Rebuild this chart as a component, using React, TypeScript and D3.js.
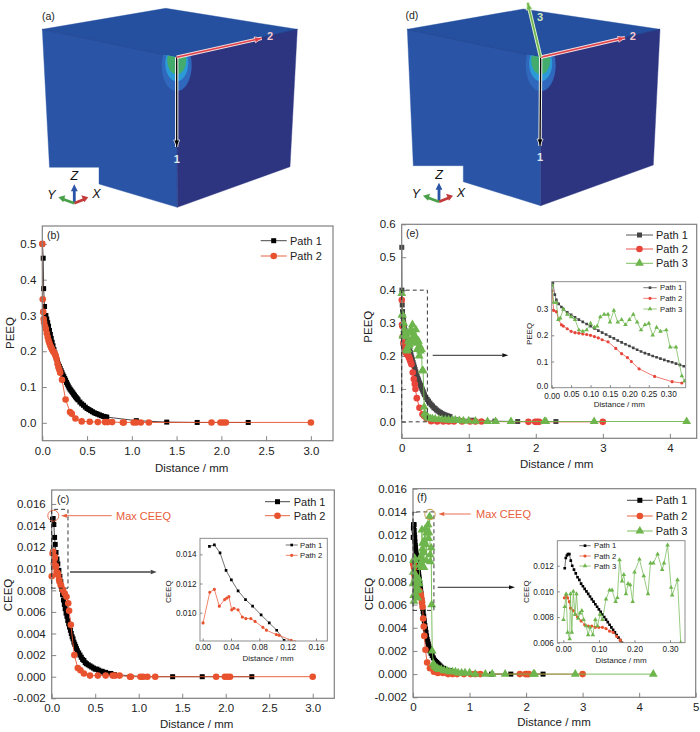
import * as d3 from 'd3';
import { useRef, useEffect } from 'react';

type Pt = [number, number];

const FONT = '"Liberation Sans", Arial, sans-serif';
const BLACK = '#000000';
const DARK = '#444444';
const RED = '#e8522e';
const RED_E = '#e8443a';
const GREEN = '#6db54c';
const ANNOT = '#e8603c';

// (b) PEEQ, model without path 3
const bPath1: Pt[] = [[0.002, 0.5], [0.01, 0.46], [0.015, 0.375], [0.025, 0.325], [0.04, 0.3], [0.05, 0.29], [0.06, 0.28], [0.07, 0.27], [0.08, 0.258], [0.09, 0.247], [0.1, 0.236], [0.11, 0.225], [0.12, 0.215], [0.13, 0.205], [0.14, 0.195], [0.15, 0.186], [0.16, 0.178], [0.17, 0.171], [0.18, 0.164], [0.19, 0.158], [0.2, 0.152], [0.21, 0.146], [0.22, 0.14], [0.23, 0.134], [0.24, 0.129], [0.25, 0.124], [0.26, 0.119], [0.27, 0.113], [0.28, 0.108], [0.29, 0.103], [0.3, 0.098], [0.31, 0.094], [0.32, 0.091], [0.33, 0.087], [0.34, 0.084], [0.35, 0.08], [0.36, 0.077], [0.37, 0.073], [0.38, 0.07], [0.39, 0.067], [0.4, 0.064], [0.42, 0.058], [0.44, 0.053], [0.46, 0.049], [0.48, 0.044], [0.5, 0.04], [0.52, 0.037], [0.54, 0.034], [0.56, 0.031], [0.58, 0.028], [0.6, 0.026], [0.62, 0.024], [0.64, 0.022], [0.66, 0.02], [0.68, 0.018], [0.7, 0.017], [0.72, 0.016], [1.05, 0.006], [1.39, 0.002], [1.73, 0.001], [2.3, 0.001]];
const bPath2: Pt[] = [[0.0, 0.5], [0.005, 0.345], [0.01, 0.31], [0.015, 0.29], [0.02, 0.28], [0.03, 0.27], [0.04, 0.262], [0.05, 0.25], [0.06, 0.24], [0.07, 0.23], [0.08, 0.222], [0.09, 0.215], [0.1, 0.21], [0.11, 0.205], [0.12, 0.2], [0.13, 0.197], [0.14, 0.192], [0.15, 0.187], [0.16, 0.178], [0.17, 0.165], [0.18, 0.155], [0.19, 0.148], [0.2, 0.14], [0.22, 0.12], [0.26, 0.065], [0.31, 0.03], [0.33, 0.025], [0.37, 0.012], [0.44, 0.004], [0.53, 0.003], [0.62, 0.002], [0.7, 0.002], [0.73, 0.002], [0.78, 0.002], [0.9, 0.001], [0.91, 0.001], [1.02, 0.001], [1.05, 0.001], [1.1, 0.001], [1.19, 0.001], [1.89, 0.001], [1.99, 0.001], [2.02, 0.001], [2.05, 0.001], [3.0, 0.001]];

// (e) PEEQ, zoomed part first, then the long tail
const ePath1Zoom: Pt[] = [[0.001, 0.53], [0.003, 0.4], [0.008, 0.355], [0.012, 0.335], [0.018, 0.32], [0.025, 0.308], [0.03, 0.3], [0.04, 0.288], [0.05, 0.278], [0.06, 0.269], [0.07, 0.26], [0.08, 0.251], [0.09, 0.243], [0.1, 0.235], [0.11, 0.226], [0.12, 0.218], [0.13, 0.21], [0.14, 0.203], [0.15, 0.195], [0.16, 0.188], [0.17, 0.18], [0.18, 0.173], [0.19, 0.166], [0.2, 0.159], [0.21, 0.152], [0.22, 0.145], [0.23, 0.138], [0.24, 0.132], [0.25, 0.127], [0.26, 0.121], [0.27, 0.116], [0.28, 0.111], [0.29, 0.106], [0.3, 0.101], [0.31, 0.097], [0.32, 0.092], [0.33, 0.087], [0.34, 0.082]];
const ePath1Tail: Pt[] = [[0.36, 0.074], [0.38, 0.068], [0.4, 0.063], [0.42, 0.057], [0.44, 0.052], [0.46, 0.048], [0.48, 0.043], [0.5, 0.04], [0.52, 0.036], [0.54, 0.033], [0.56, 0.03], [0.58, 0.028], [0.6, 0.025], [0.62, 0.023], [0.64, 0.021], [0.66, 0.02], [0.68, 0.018], [0.7, 0.017], [0.72, 0.016], [1.05, 0.005], [1.39, 0.002], [1.73, 0.001], [2.3, 0.001]];
const ePath2Zoom: Pt[] = [[0.001, 0.37], [0.005, 0.295], [0.012, 0.29], [0.018, 0.26], [0.025, 0.24], [0.03, 0.235], [0.04, 0.225], [0.05, 0.215], [0.06, 0.21], [0.07, 0.208], [0.08, 0.205], [0.09, 0.203], [0.1, 0.2], [0.11, 0.195], [0.12, 0.19], [0.13, 0.183], [0.145, 0.175], [0.165, 0.15], [0.18, 0.13], [0.195, 0.115], [0.205, 0.1], [0.225, 0.072], [0.265, 0.043], [0.31, 0.023], [0.335, 0.018]];
const ePath2Tail: Pt[] = [[0.37, 0.01], [0.44, 0.002], [0.53, 0.001], [0.62, 0.001], [0.7, 0.001], [0.78, 0.001], [0.9, 0.001], [1.02, 0.001], [1.1, 0.001], [1.19, 0.001], [1.89, 0.0], [1.99, 0.0], [2.02, 0.0], [2.05, 0.0], [3.0, 0.0]];
const ePath3Zoom: Pt[] = [[0.001, 0.39], [0.005, 0.325], [0.012, 0.325], [0.017, 0.26], [0.022, 0.265], [0.03, 0.3], [0.04, 0.28], [0.05, 0.27], [0.06, 0.26], [0.07, 0.22], [0.08, 0.215], [0.09, 0.22], [0.1, 0.245], [0.11, 0.23], [0.117, 0.235], [0.125, 0.27], [0.135, 0.28], [0.145, 0.28], [0.15, 0.25], [0.16, 0.295], [0.17, 0.25], [0.18, 0.26], [0.19, 0.24], [0.2, 0.26], [0.21, 0.28], [0.22, 0.25], [0.23, 0.22], [0.24, 0.24], [0.25, 0.245], [0.26, 0.2], [0.27, 0.23], [0.28, 0.215], [0.295, 0.22], [0.305, 0.155], [0.32, 0.155], [0.335, 0.045], [0.342, 0.025]];
const ePath3Tail: Pt[] = [[0.36, 0.02], [0.38, 0.015], [0.4, 0.012], [0.43, 0.01], [0.46, 0.009], [0.5, 0.008], [0.55, 0.007], [0.6, 0.007], [0.65, 0.006], [0.7, 0.006], [0.75, 0.005], [0.8, 0.005], [0.86, 0.004], [0.92, 0.003], [1.0, 0.003], [1.1, 0.002], [1.28, 0.001], [1.4, 0.001], [1.63, 0.001], [2.13, 0.001], [2.15, 0.001], [2.87, 0.001], [4.25, 0.001]];

// (c) CEEQ
const cPath1Zoom: Pt[] = [[0.0095, 0.01455], [0.0165, 0.01465], [0.0245, 0.0141], [0.033, 0.0129], [0.0405, 0.01225], [0.05, 0.0115], [0.0605, 0.0109], [0.0705, 0.01045], [0.0825, 0.00985], [0.094, 0.0093], [0.1045, 0.0088], [0.115, 0.0081]];
const cPath1Tail: Pt[] = [[0.125, 0.0076], [0.135, 0.0071], [0.145, 0.0067], [0.155, 0.0063], [0.165, 0.0059], [0.175, 0.0056], [0.185, 0.0052], [0.195, 0.0049], [0.205, 0.0046], [0.215, 0.0043], [0.225, 0.004], [0.235, 0.0037], [0.245, 0.0035], [0.255, 0.0032], [0.265, 0.003], [0.275, 0.0028], [0.285, 0.0026], [0.295, 0.0024], [0.31, 0.0022], [0.325, 0.002], [0.34, 0.0018], [0.355, 0.0016], [0.37, 0.0015], [0.385, 0.0013], [0.4, 0.0012], [0.42, 0.0011], [0.44, 0.001], [0.46, 0.0009], [0.48, 0.0008], [0.5, 0.0007], [0.52, 0.0007], [0.54, 0.0006], [0.56, 0.0005], [0.58, 0.0005], [0.6, 0.0004], [0.62, 0.0004], [0.64, 0.0003], [0.66, 0.0003], [0.68, 0.0003], [0.7, 0.0002], [0.72, 0.0002], [1.05, 0.0], [1.39, 0.0], [1.73, 0.0], [2.3, 0.0]];
const cPath2Zoom: Pt[] = [[0.0005, 0.0093], [0.01, 0.0114], [0.0165, 0.0116], [0.0235, 0.01045], [0.031, 0.0109], [0.034, 0.011], [0.037, 0.0111], [0.041, 0.0102], [0.044, 0.0103], [0.05, 0.0102], [0.056, 0.0097], [0.061, 0.0096], [0.068, 0.0096], [0.074, 0.0094], [0.085, 0.009], [0.09, 0.0088], [0.104, 0.0085], [0.108, 0.00845], [0.125, 0.0081], [0.13, 0.008], [0.15, 0.0077]];
const cPath2Tail: Pt[] = [[0.17, 0.0074], [0.19, 0.0068], [0.2, 0.0061], [0.22, 0.0048], [0.26, 0.002], [0.3, 0.0008], [0.33, 0.0006], [0.37, 0.0003], [0.44, 0.0001], [0.53, 0.0001], [0.62, 0.0001], [0.7, 0.0001], [0.73, 0.0001], [0.78, 0.0001], [0.9, 0.0], [0.91, 0.0], [1.02, 0.0], [1.05, 0.0], [1.1, 0.0], [1.19, 0.0], [1.89, 0.0], [1.99, 0.0], [2.02, 0.0], [2.05, 0.0], [3.0, 0.0]];

// (f) CEEQ
const fPath1Zoom: Pt[] = [[0.004, 0.0118], [0.007, 0.0126], [0.01, 0.0128], [0.013, 0.0129], [0.017, 0.0129], [0.021, 0.0124], [0.025, 0.012], [0.03, 0.0117], [0.035, 0.0114], [0.04, 0.0111], [0.045, 0.0109], [0.05, 0.0106], [0.055, 0.0104], [0.06, 0.0102], [0.065, 0.01], [0.07, 0.0098], [0.075, 0.0096], [0.08, 0.0094], [0.085, 0.0092], [0.09, 0.009], [0.095, 0.0088], [0.1, 0.0086], [0.105, 0.0084], [0.11, 0.0082], [0.115, 0.008], [0.12, 0.0078], [0.125, 0.0076], [0.13, 0.0074], [0.135, 0.0072], [0.14, 0.007], [0.145, 0.0068], [0.15, 0.0066], [0.155, 0.0064], [0.16, 0.0062], [0.165, 0.006], [0.17, 0.0058]];
const fPath1Tail: Pt[] = [[0.18, 0.0054], [0.19, 0.005], [0.2, 0.0046], [0.21, 0.0042], [0.22, 0.0039], [0.23, 0.0036], [0.24, 0.0033], [0.25, 0.003], [0.26, 0.0028], [0.27, 0.0026], [0.28, 0.0024], [0.29, 0.0022], [0.3, 0.002], [0.32, 0.0018], [0.34, 0.0016], [0.36, 0.0014], [0.38, 0.0012], [0.4, 0.0011], [0.42, 0.001], [0.44, 0.0009], [0.46, 0.0008], [0.48, 0.0007], [0.5, 0.0006], [0.54, 0.0005], [0.58, 0.0004], [0.62, 0.0003], [0.66, 0.0003], [0.7, 0.0002], [0.72, 0.0002], [1.05, 0.0], [1.39, 0.0], [1.73, 0.0], [2.3, 0.0]];
const fPath2Zoom: Pt[] = [[0.003, 0.0095], [0.008, 0.0097], [0.012, 0.0095], [0.017, 0.0092], [0.02, 0.0087], [0.028, 0.0085], [0.034, 0.0082], [0.04, 0.008], [0.05, 0.0077], [0.06, 0.0074], [0.07, 0.0073], [0.08, 0.0073], [0.09, 0.0072], [0.1, 0.0072], [0.11, 0.0072], [0.12, 0.0071], [0.13, 0.0069], [0.14, 0.0068], [0.15, 0.0065], [0.16, 0.0062], [0.17, 0.0058]];
const fPath2Tail: Pt[] = [[0.18, 0.0048], [0.19, 0.0041], [0.2, 0.0033], [0.22, 0.0021], [0.25, 0.001], [0.3, 0.0005], [0.37, 0.0002], [0.44, 0.0001], [0.53, 0.0001], [0.62, 0.0], [0.7, 0.0], [0.78, 0.0], [0.9, 0.0], [1.02, 0.0], [1.1, 0.0], [1.19, 0.0], [1.89, 0.0], [1.99, 0.0], [2.02, 0.0], [2.05, 0.0], [3.0, 0.0]];
const fPath3Zoom: Pt[] = [[0.0005, 0.0078], [0.004, 0.0088], [0.008, 0.0098], [0.012, 0.0068], [0.018, 0.0063], [0.02, 0.0098], [0.024, 0.0068], [0.028, 0.01], [0.033, 0.0082], [0.037, 0.0098], [0.042, 0.0079], [0.047, 0.0083], [0.052, 0.0085], [0.057, 0.0078], [0.064, 0.0073], [0.07, 0.0066], [0.075, 0.0072], [0.083, 0.0066], [0.09, 0.0078], [0.096, 0.0073], [0.103, 0.0082], [0.11, 0.0078], [0.12, 0.0094], [0.13, 0.0101], [0.137, 0.0101], [0.147, 0.0092], [0.152, 0.0095], [0.158, 0.01245], [0.165, 0.0108], [0.17, 0.0113], [0.176, 0.0098], [0.182, 0.0106], [0.188, 0.0105], [0.195, 0.0092], [0.2, 0.0115], [0.214, 0.0125], [0.226, 0.0112], [0.238, 0.0098], [0.245, 0.0122], [0.253, 0.0122], [0.265, 0.0129], [0.278, 0.0117], [0.283, 0.0122], [0.293, 0.0136], [0.303, 0.0103], [0.306, 0.0097], [0.321, 0.0109], [0.33, 0.006]];
const fPath3Tail: Pt[] = [[0.34, 0.002], [0.36, 0.0009], [0.38, 0.0007], [0.4, 0.0006], [0.43, 0.0005], [0.46, 0.0004], [0.5, 0.0004], [0.55, 0.0003], [0.6, 0.0003], [0.65, 0.0002], [0.7, 0.0002], [0.75, 0.0002], [0.8, 0.0001], [0.86, 0.0001], [0.92, 0.0001], [1.0, 0.0001], [1.1, 0.0], [1.28, 0.0], [1.4, 0.0], [1.63, 0.0], [2.13, 0.0], [2.15, 0.0], [2.87, 0.0], [4.25, 0.0]];

const pathLabels = ['Path 1', 'Path 2', 'Path 3'];

const peeqTicks = [0, 0.1, 0.2, 0.3, 0.4, 0.5];
const peeqTicksE = [0, 0.1, 0.2, 0.3, 0.4, 0.5, 0.6];
const ceeqTicks = [-0.002, 0, 0.002, 0.004, 0.006, 0.008, 0.01, 0.012, 0.014, 0.016];
const dist3Ticks = [0, 0.5, 1, 1.5, 2, 2.5, 3];
const dist4Ticks = [0, 1, 2, 3, 4];
const dist5Ticks = [0, 1, 2, 3, 4, 5];

type Series = { label: string; data: Pt[]; color: string; line: string; mark: 'square' | 'circle' | 'triangle' };
type PlotCfg = {
  box: [number, number, number, number];
  xDomain: [number, number];
  yDomain: [number, number];
  xTicks: number[];
  yTicks: number[];
  xFmt: string;
  yFmt: string;
  yLabel: string;
  xLabelPos: [number, number];
  yLabelPos: [number, number];
  series: Series[];
  legendLine: [number, number];
  legendText: number;
  legendY: number[];
  inset?: boolean;
};

const s1 = (data: Pt[], color = BLACK, line = '#333333'): Series => ({ label: pathLabels[0], data, color, line, mark: 'square' });
const s2 = (data: Pt[], color = RED): Series => ({ label: pathLabels[1], data, color, line: color, mark: 'circle' });
const s3 = (data: Pt[]): Series => ({ label: pathLabels[2], data, color: GREEN, line: GREEN, mark: 'triangle' });

const plots: Record<string, PlotCfg> = {
  b: {
    box: [42.3, 226, 333, 440.7], xDomain: [0, 3.247], yDomain: [-0.05, 0.55],
    xTicks: dist3Ticks, yTicks: peeqTicks, xFmt: '.1f', yFmt: '.1f', yLabel: 'PEEQ',
    xLabelPos: [191.7, 471.5], yLabelPos: [13.5, 333],
    series: [s1(bPath1), s2(bPath2)],
    legendLine: [260.7, 286.7], legendText: 290, legendY: [240.7, 256],
  },
  e: {
    box: [401.7, 224.3, 696.7, 438.3], xDomain: [0, 4.4], yDomain: [-0.05, 0.6],
    xTicks: dist4Ticks, yTicks: peeqTicksE, xFmt: 'd', yFmt: '.1f', yLabel: 'PEEQ',
    xLabelPos: [556.7, 468], yLabelPos: [372, 326.7],
    series: [s1([...ePath1Zoom, ...ePath1Tail], DARK, DARK), s2([...ePath2Zoom, ...ePath2Tail], RED_E), s3([...ePath3Zoom, ...ePath3Tail])],
    legendLine: [626, 653], legendText: 656, legendY: [235, 249, 263.3],
  },
  eInset: {
    box: [551.7, 281.7, 685.7, 387.7], xDomain: [0, 0.345], yDomain: [0, 0.4045],
    xTicks: [0, 0.05, 0.1, 0.15, 0.2, 0.25, 0.3], yTicks: [0, 0.1, 0.2, 0.3], xFmt: '.2f', yFmt: '.1f', yLabel: 'PEEQ',
    xLabelPos: [619.3, 407], yLabelPos: [532, 334],
    series: [s1(ePath1Zoom, DARK, DARK), s2(ePath2Zoom, RED_E), s3(ePath3Zoom)],
    legendLine: [643.3, 656.7], legendText: 660, legendY: [287.7, 298.3, 309], inset: true,
  },
  c: {
    box: [51.7, 490, 334.3, 698.3], xDomain: [0, 3.248], yDomain: [-0.002, 0.01729],
    xTicks: dist3Ticks, yTicks: ceeqTicks, xFmt: '.1f', yFmt: '.3f', yLabel: 'CEEQ',
    xLabelPos: [196.7, 728], yLabelPos: [11.5, 595],
    series: [s1([...cPath1Zoom, ...cPath1Tail]), s2([...cPath2Zoom, ...cPath2Tail])],
    legendLine: [265, 290], legendText: 293.7, legendY: [501.7, 515.7],
  },
  cInset: {
    box: [200, 538.3, 327.3, 641], xDomain: [-0.0038, 0.176], yDomain: [0.00806, 0.0151],
    xTicks: [0, 0.04, 0.08, 0.12, 0.16], yTicks: [0.01, 0.012, 0.014], xFmt: '.2f', yFmt: '.3f', yLabel: 'CEEQ',
    xLabelPos: [268, 661], yLabelPos: [171, 591.7],
    series: [s1(cPath1Zoom), s2(cPath2Zoom)],
    legendLine: [285.7, 297.7], legendText: 300, legendY: [545, 555.3], inset: true,
  },
  f: {
    box: [413, 488.7, 695.7, 697.3], xDomain: [0, 5], yDomain: [-0.002, 0.016],
    xTicks: dist5Ticks, yTicks: ceeqTicks, xFmt: 'd', yFmt: '.3f', yLabel: 'CEEQ',
    xLabelPos: [554, 725.7], yLabelPos: [373, 594],
    series: [s1([...fPath1Zoom, ...fPath1Tail]), s2([...fPath2Zoom, ...fPath2Tail]), s3([...fPath3Zoom, ...fPath3Tail])],
    legendLine: [627, 652.7], legendText: 655.7, legendY: [500.3, 516, 531],
  },
  fInset: {
    box: [557.3, 540.7, 685, 642.7], xDomain: [-0.0169, 0.342], yDomain: [0.006, 0.01395],
    xTicks: [0, 0.1, 0.2, 0.3], yTicks: [0.006, 0.008, 0.01, 0.012], xFmt: '.2f', yFmt: '.3f', yLabel: 'CEEQ',
    xLabelPos: [621, 663], yLabelPos: [529, 591.7],
    series: [s1(fPath1Zoom), s2(fPath2Zoom), s3(fPath3Zoom)],
    legendLine: [579.3, 590.7], legendText: 594, legendY: [545.7, 556, 566], inset: true,
  },
};

const symbolTypes = { square: d3.symbolSquare, circle: d3.symbolCircle, triangle: d3.symbolTriangle };

const fmt = (spec: string) => (v: any) => d3.format(spec)(v).replace('\u2212', '-');

function arrow(g: any, x1: number, y1: number, x2: number, y2: number, color: string, w: number, len: number, half: number) {
  const a = Math.atan2(y2 - y1, x2 - x1);
  const bx = x2 - len * Math.cos(a);
  const by = y2 - len * Math.sin(a);
  g.append('line').attr('x1', x1).attr('y1', y1).attr('x2', bx).attr('y2', by).attr('stroke', color).attr('stroke-width', w);
  const nx = -Math.sin(a) * half;
  const ny = Math.cos(a) * half;
  g.append('polygon').attr('points', `${x2},${y2} ${bx + nx},${by + ny} ${bx - nx},${by - ny}`).attr('fill', color);
}

function drawPlot(root: any, id: string, cfg: PlotCfg) {
  const [left, top, right, bottom] = cfg.box;
  const inset = !!cfg.inset;
  const x = d3.scaleLinear().domain(cfg.xDomain).range([left, right]);
  const y = d3.scaleLinear().domain(cfg.yDomain).range([bottom, top]);
  const g = root.append('g').attr('font-family', FONT);
  const tickFont = inset ? 8.2 : 11.5;
  const tickLen = inset ? 2.5 : 4.5;
  const tickPad = inset ? 3.5 : 6;

  if (inset) {
    g.append('rect').attr('x', left).attr('y', top).attr('width', right - left).attr('height', bottom - top).attr('fill', '#ffffff');
  }

  const clipId = `clip-${id}`;
  root.append('clipPath').attr('id', clipId).append('rect').attr('x', left).attr('y', top).attr('width', right - left).attr('height', bottom - top);

  // ticks point inward in the source figure
  const xAxis = g.append('g').attr('transform', `translate(0,${bottom})`)
    .call(d3.axisBottom(x).tickValues(cfg.xTicks).tickSizeInner(-tickLen).tickSizeOuter(0).tickPadding(tickPad).tickFormat(fmt(cfg.xFmt)));
  const yAxis = g.append('g').attr('transform', `translate(${left},0)`)
    .call(d3.axisLeft(y).tickValues(cfg.yTicks).tickSizeInner(-tickLen).tickSizeOuter(0).tickPadding(tickPad).tickFormat(fmt(cfg.yFmt)));
  [xAxis, yAxis].forEach(a => {
    a.select('.domain').remove();
    a.attr('font-size', tickFont).attr('font-family', FONT);
    a.selectAll('line').attr('stroke', '#777777').attr('stroke-width', 0.9);
    a.selectAll('text').attr('fill', '#222222');
  });

  // first labels of the PEEQ zoom sit tight together
  if (id === 'eInset') {
    yAxis.selectAll('.tick').filter((d: number) => d === 0).select('text').attr('y', -1.5);
    xAxis.selectAll('.tick').filter((d: number) => d === 0).select('text').attr('y', tickPad + 1.5);
  }

  const plot = g.append('g');
  if (inset) plot.attr('clip-path', `url(#${clipId})`);
  const line = d3.line<Pt>().x(d => x(d[0])).y(d => y(d[1]));
  const sizeOf = (m: Series['mark']) => {
    if (inset) return m === 'square' ? 7 : m === 'circle' ? 8 : 9;
    return m === 'square' ? 25 : m === 'circle' ? 34 : 34;
  };

  cfg.series.forEach(s => {
    plot.append('path').attr('d', line(s.data)).attr('fill', 'none').attr('stroke', s.line).attr('stroke-width', inset ? 0.7 : 0.9);
    plot.selectAll(null).data(s.data).enter().append('path')
      .attr('d', d3.symbol().type(symbolTypes[s.mark]).size(sizeOf(s.mark)))
      .attr('transform', (d: Pt) => `translate(${x(d[0])},${y(d[1])})`)
      .attr('fill', s.color);
  });

  g.append('rect').attr('x', left).attr('y', top).attr('width', right - left).attr('height', bottom - top)
    .attr('fill', 'none').attr('stroke', '#808080').attr('stroke-width', inset ? 0.9 : 1.2);

  // legend
  const legendFont = inset ? 7.7 : 11;
  cfg.series.forEach((s, i) => {
    const ly = cfg.legendY[i];
    const [a, b] = cfg.legendLine;
    g.append('line').attr('x1', a).attr('x2', b).attr('y1', ly).attr('y2', ly).attr('stroke', s.line).attr('stroke-width', inset ? 0.7 : 0.9);
    g.append('path').attr('d', d3.symbol().type(symbolTypes[s.mark]).size(sizeOf(s.mark)))
      .attr('transform', `translate(${(a + b) / 2},${ly})`).attr('fill', s.color);
    g.append('text').attr('x', cfg.legendText).attr('y', ly).attr('dy', '0.35em').attr('font-size', legendFont).attr('fill', '#222222').text(s.label);
  });

  // axis titles
  const labelFont = inset ? 8 : 11.5;
  g.append('text').attr('x', cfg.xLabelPos[0]).attr('y', cfg.xLabelPos[1]).attr('text-anchor', 'middle')
    .attr('font-size', labelFont).attr('fill', '#222222').text('Distance / mm');
  g.append('text').attr('transform', `translate(${cfg.yLabelPos[0]},${cfg.yLabelPos[1]}) rotate(-90)`).attr('text-anchor', 'middle')
    .attr('font-size', labelFont).attr('fill', '#222222').text(cfg.yLabel);

  return { x, y, g };
}

function dashedBox(p: any, x0: number, x1: number, y0: number, y1: number) {
  const pts: Pt[] = [[x0, y0], [x1, y0], [x1, y1], [x0, y1], [x0, y0]];
  p.g.append('path').attr('d', d3.line<Pt>().x(d => p.x(d[0])).y(d => p.y(d[1]))(pts))
    .attr('fill', 'none').attr('stroke', '#222222').attr('stroke-width', 0.9).attr('stroke-dasharray', '4 3');
}

// arrow head polygon for the path arrows on the cube
const head = (from: Pt, to: Pt, len: number, half: number) => {
  const a = Math.atan2(to[1] - from[1], to[0] - from[0]);
  const bx = to[0] - len * Math.cos(a);
  const by = to[1] - len * Math.sin(a);
  const nx = -Math.sin(a) * half;
  const ny = Math.cos(a) * half;
  return `${to[0]},${to[1]} ${bx + nx},${by + ny} ${bx - nx},${by - ny}`;
};

const CubeArrow = ({ from, to, outer, inner, w }: { from: Pt; to: Pt; outer: string; inner: string; w: number }) => (
  <g>
    <line x1={from[0]} y1={from[1]} x2={to[0]} y2={to[1]} stroke={outer} strokeWidth={w + 2} />
    <polygon points={head(from, to, 7, 3)} fill={inner} stroke={outer} strokeWidth={0.8} />
    <line x1={from[0]} y1={from[1]} x2={to[0]} y2={to[1]} stroke={inner} strokeWidth={w} />
  </g>
);

const Cube = ({ c, id }: { c: any; id: string }) => {
  const leftFace = [c.tl, c.mid, c.bot, c.n3, c.n2, c.n1].map((p: Pt) => p.join(',')).join(' ');
  const rightFace = [c.mid, c.tr, c.br, c.bot].map((p: Pt) => p.join(',')).join(' ');
  const topFace = [c.tl, c.back, c.tr, c.mid].map((p: Pt) => p.join(',')).join(' ');
  const [mx, my] = c.mid;
  const o = c.o;
  const end = (p: Pt, back: number): Pt => {
    const a = Math.atan2(p[1] - my, p[0] - mx);
    return [p[0] - back * Math.cos(a), p[1] - back * Math.sin(a)];
  };
  return (
    <g fontFamily={FONT}>
      <defs>
        <clipPath id={id}>
          <polygon points={leftFace} />
          <polygon points={rightFace} />
        </clipPath>
      </defs>
      <polygon points={leftFace} fill="#2a55a6" stroke="#2a55a6" strokeWidth={0.4} />
      <polygon points={rightFace} fill="#2d3581" stroke="#2d3581" strokeWidth={0.4} />
      <polygon points={topFace} fill="#25509f" stroke="#25509f" strokeWidth={0.4} />
      <line x1={c.tl[0]} y1={c.tl[1]} x2={mx} y2={my} stroke="#1f4490" strokeWidth={0.8} />
      <line x1={mx} y1={my} x2={c.tr[0]} y2={c.tr[1]} stroke="#20347e" strokeWidth={0.8} />
      <g clipPath={`url(#${id})`}>
        <ellipse cx={mx} cy={my + 8} rx={15} ry={26} fill="#2f68bc" />
        <ellipse cx={mx} cy={my + 6} rx={11.5} ry={18} fill="#2b9ad6" />
        <ellipse cx={mx} cy={my + 3} rx={9.5} ry={14} fill="#43ac6c" />
      </g>
      <CubeArrow from={[mx, my]} to={end(c.a1, 0)} outer="#f2f2f2" inner="#000000" w={1.3} />
      <CubeArrow from={[mx, my]} to={end(c.a2, 0)} outer="#f4dcdc" inner="#e0404a" w={1.5} />
      <text x={c.l1[0]} y={c.l1[1]} textAnchor="middle" fontSize={11} fontWeight="bold" fill="#dfe6f2">1</text>
      <text x={c.l2[0]} y={c.l2[1]} textAnchor="middle" fontSize={11} fontWeight="bold" fill="#f4c8cc">2</text>
      {c.a3 && (
        <g>
          <CubeArrow from={[mx, my]} to={end(c.a3, 0)} outer="#dcefcc" inner="#6db54c" w={1.6} />
          <text x={c.l3[0]} y={c.l3[1]} textAnchor="middle" fontSize={11} fontWeight="bold" fill="#cfe8bc">3</text>
        </g>
      )}
      <rect x={o[0] - 1.4} y={o[1] - 13} width={2.8} height={13} fill="#2a55a6" />
      <polygon points={`${o[0]},${o[1] - 19} ${o[0] - 3.4},${o[1] - 12} ${o[0] + 3.4},${o[1] - 12}`} fill="#2a55a6" />
      <line x1={o[0]} y1={o[1]} x2={o[0] + 10} y2={o[1] - 4} stroke="#c23a3a" strokeWidth={2.8} />
      <polygon points={`${o[0] + 14},${o[1] - 6} ${o[0] + 7},${o[1] - 8} ${o[0] + 10},${o[1] - 1}`} fill="#c23a3a" />
      <line x1={o[0]} y1={o[1]} x2={o[0] - 11} y2={o[1] - 4} stroke="#4aa048" strokeWidth={2.8} />
      <polygon points={`${o[0] - 16},${o[1] - 6} ${o[0] - 9},${o[1] - 8} ${o[0] - 11},${o[1] - 1}`} fill="#4aa048" />
      <text x={o[0]} y={o[1] - 23} textAnchor="middle" fontSize={12.5} fontStyle="italic" fill="#111111">Z</text>
      <text x={o[0] - 23} y={o[1] - 4} textAnchor="middle" fontSize={12.5} fontStyle="italic" fill="#111111">Y</text>
      <text x={o[0] + 22} y={o[1] - 5} textAnchor="middle" fontSize={12.5} fontStyle="italic" fill="#111111">X</text>
    </g>
  );
};

const cubeA = {
  tl: [42.3, 29.3], back: [165.7, 8.3], tr: [297.3, 29.3], mid: [176.7, 57.3], bot: [177.3, 207.3], br: [290, 166.7],
  n1: [49.5, 167.3], n2: [99, 167.3], n3: [99, 184],
  a1: [176.7, 147], a2: [261.7, 38.3], l1: [176.7, 162.5], l2: [270, 40], o: [74.3, 203.3],
};
const cubeD = {
  tl: [407.3, 29.3], back: [523.3, 9], tr: [660, 29.3], mid: [540.7, 57.3], bot: [540.7, 205.7], br: [653.3, 165],
  n1: [413.3, 165.7], n2: [463.3, 165.7], n3: [463.3, 181.7],
  a1: [540, 146], a2: [625, 37.7], a3: [527.7, 2.7], l1: [540, 161], l2: [632.7, 39.5], l3: [540, 20.5], o: [439, 201.7],
};

const panelTags: [string, number, number][] = [
  ['(a)', 42, 20], ['(d)', 405.5, 19], ['(b)', 47, 239], ['(e)', 406, 236.5], ['(c)', 57, 503], ['(f)', 417, 501],
];

const App = () => {
  const svgRef = useRef<SVGSVGElement | null>(null);

  useEffect(() => {
    const svg = d3.select(svgRef.current);
    svg.selectAll('g.charts').remove();
    const root = svg.append('g').attr('class', 'charts');

    drawPlot(root, 'b', plots.b);
    const e = drawPlot(root, 'e', plots.e);
    const c = drawPlot(root, 'c', plots.c);
    const f = drawPlot(root, 'f', plots.f);

    dashedBox(e, 0, 0.383, 0, 0.4);
    dashedBox(c, 0, 0.187, 0.0082, 0.0155);
    dashedBox(f, 0, 0.37, 0.0055, 0.014);

    drawPlot(root, 'eInset', plots.eInset);
    drawPlot(root, 'cInset', plots.cInset);
    drawPlot(root, 'fInset', plots.fInset);

    // arrows and notes
    arrow(root, 432.7, 355.3, 508.3, 355.3, '#111111', 0.9, 6, 2);
    arrow(root, 70, 572, 156.7, 572, '#444444', 1.4, 6, 2.2);
    arrow(root, 437.7, 587.3, 515, 587.3, '#111111', 0.9, 6, 2);
    arrow(root, 111.7, 515.7, 61, 515.7, ANNOT, 0.9, 6, 2);
    arrow(root, 470.7, 514, 438.3, 514, ANNOT, 0.9, 6, 2);
    root.append('circle').attr('cx', 53.3).attr('cy', 515.7).attr('r', 5.5).attr('fill', 'none').attr('stroke', ANNOT).attr('stroke-width', 0.9);
    root.append('circle').attr('cx', 430).attr('cy', 514.5).attr('r', 5.2).attr('fill', 'none').attr('stroke', '#c89a4a').attr('stroke-width', 1);
    root.append('text').attr('x', 116).attr('y', 515.7).attr('dy', '0.35em').attr('font-family', FONT).attr('font-size', 11).attr('fill', ANNOT).text('Max CEEQ');
    root.append('text').attr('x', 476).attr('y', 514).attr('dy', '0.35em').attr('font-family', FONT).attr('font-size', 11).attr('fill', ANNOT).text('Max CEEQ');

    root.selectAll('text.tag').data(panelTags).enter().append('text').attr('class', 'tag')
      .attr('x', (d: any) => d[1]).attr('y', (d: any) => d[2])
      .attr('font-family', FONT).attr('font-size', 10.5).attr('fill', '#222222')
      .text((d: any) => d[0]);
  }, []);

  return (
    <svg ref={svgRef} width={700} height={732} style={{ position: 'absolute', left: 0, top: 0, background: '#ffffff' }}>
      <Cube c={cubeA} id="cube-a" />
      <Cube c={cubeD} id="cube-d" />
    </svg>
  );
};

export default App;
